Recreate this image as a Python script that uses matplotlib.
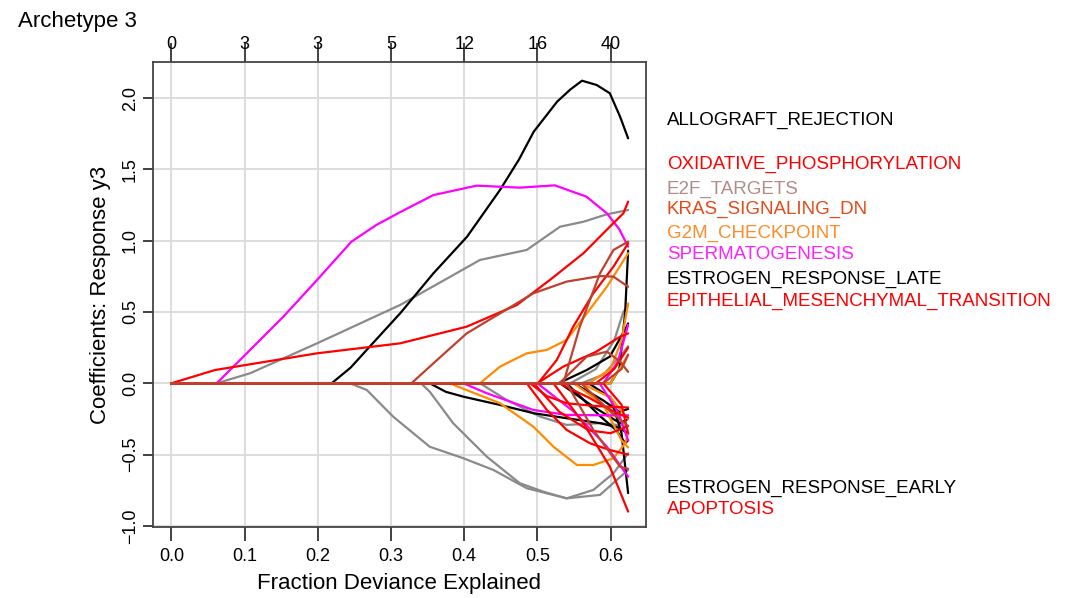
import matplotlib
matplotlib.use("Agg")
from matplotlib import pyplot as plt
import matplotlib.transforms as mtransforms

plt.rcParams["font.family"] = ["Liberation Sans", "DejaVu Sans"]

# fraction deviance ticks and number of non-zero coefficients (top axis)
dev_ticks = [0.0, 0.1, 0.2, 0.3, 0.4, 0.5, 0.6]
df_labels = ["0", "3", "3", "5", "12", "16", "40"]
y_ticks = [-1.0, -0.5, 0.0, 0.5, 1.0, 1.5, 2.0]

# coefficient paths: (fraction deviance knots, coefficient values)
black_paths = [
    ([0, 0.219, 0.245, 0.271, 0.3125, 0.358, 0.404, 0.449, 0.475, 0.495, 0.527, 0.545, 0.561, 0.581, 0.599, 0.613, 0.624],
     [0, 0, 0.11, 0.257, 0.49, 0.771, 1.028, 1.356, 1.57, 1.764, 1.975, 2.06, 2.122, 2.092, 2.034, 1.87, 1.718]),
    ([0, 0.353, 0.375, 0.399, 0.449, 0.495, 0.54, 0.586, 0.61, 0.624],
     [0, 0, -0.06, -0.094, -0.152, -0.21, -0.245, -0.28, -0.31, -0.35]),
    ([0, 0.6, 0.612, 0.62, 0.624], [0, 0, 0.1, 0.5, 0.93]),
    ([0, 0.57, 0.6, 0.615, 0.624], [0, 0, -0.1, -0.35, -0.77]),
    ([0, 0.529, 0.5675, 0.599, 0.622, 0.624], [0, 0, 0.093, 0.187, 0.397, 0.42]),
    ([0, 0.531, 0.5765, 0.613, 0.624], [0, 0, -0.164, -0.28, -0.25]),
    ([0, 0.54, 0.5856, 0.608, 0.62, 0.624], [0, 0, -0.23, -0.33, -0.42, -0.4]),
    ([0, 0.55, 0.59, 0.612, 0.624], [0, 0, -0.12, -0.2, -0.18]),
]
gray_paths = [
    ([0, 0.062, 0.1075, 0.199, 0.3125, 0.4217, 0.4855, 0.531, 0.563, 0.595, 0.624],
     [0, 0, 0.07, 0.28, 0.549, 0.865, 0.935, 1.098, 1.133, 1.185, 1.215]),
    ([0, 0.244, 0.267, 0.303, 0.353, 0.399, 0.44, 0.4855, 0.54, 0.5856, 0.6085, 0.624],
     [0, 0, -0.047, -0.234, -0.445, -0.526, -0.608, -0.736, -0.807, -0.783, -0.678, -0.608]),
    ([0, 0.341, 0.353, 0.385, 0.431, 0.476, 0.508, 0.54, 0.5765, 0.604, 0.624],
     [0, 0, -0.059, -0.28, -0.515, -0.701, -0.76, -0.807, -0.748, -0.631, -0.491]),
    ([0, 0.4217, 0.458, 0.504, 0.54, 0.5856, 0.624], [0, 0, -0.117, -0.234, -0.292, -0.28, -0.3]),
    ([0, 0.545, 0.58, 0.605, 0.6175, 0.624], [0, 0, 0.1, 0.3, 0.5, 0.55]),
    ([0, 0.56, 0.59, 0.615, 0.624], [0, 0, 0.06, 0.2, 0.26]),
]
magenta_paths = [
    ([0, 0.062, 0.103, 0.153, 0.199, 0.246, 0.28, 0.3125, 0.358, 0.417, 0.476, 0.524, 0.567, 0.595, 0.612, 0.624],
     [0, 0, 0.21, 0.467, 0.724, 0.993, 1.11, 1.2, 1.32, 1.386, 1.372, 1.388, 1.309, 1.192, 1.08, 0.958]),
    ([0, 0.399, 0.431, 0.4945, 0.54, 0.6, 0.624], [0, 0, -0.07, -0.187, -0.222, -0.225, -0.225]),
    ([0, 0.5, 0.55, 0.595, 0.624], [0, 0, -0.2, -0.445, -0.655]),
    ([0, 0.59, 0.61, 0.624], [0, 0, 0.15, 0.41]),
    ([0, 0.585, 0.61, 0.624], [0, 0, -0.2, -0.4]),
]
orange_paths = [
    ([0, 0.4217, 0.449, 0.4855, 0.513, 0.54, 0.5675, 0.595, 0.624],
     [0, 0, 0.117, 0.21, 0.234, 0.304, 0.49, 0.677, 0.912]),
    ([0, 0.38, 0.449, 0.4945, 0.522, 0.554, 0.5765, 0.604, 0.62, 0.624],
     [0, 0, -0.14, -0.304, -0.445, -0.573, -0.573, -0.526, -0.421, -0.35]),
    ([0, 0.57, 0.6, 0.615, 0.624], [0, 0, 0.1, 0.3, 0.56]),
    ([0, 0.56, 0.6, 0.624], [0, 0, -0.1, -0.25]),
    ([0, 0.6, 0.624], [0, 0, 0.2]),
    ([0, 0.55, 0.59, 0.615, 0.624], [0, 0, -0.15, -0.4, -0.45]),
]
red_paths = [
    ([0, 0.0597, 0.199, 0.3125, 0.4035, 0.472, 0.517, 0.563, 0.599, 0.6175, 0.624],
     [0, 0.093, 0.21, 0.28, 0.397, 0.549, 0.724, 0.912, 1.098, 1.192, 1.274]),
    ([0, 0.501, 0.5265, 0.549, 0.5765, 0.604, 0.624], [0, 0, 0.163, 0.397, 0.631, 0.818, 0.982]),
    ([0, 0.5, 0.5355, 0.58, 0.613, 0.624], [0, 0, 0.117, 0.22, 0.327, 0.35]),
    ([0, 0.4855, 0.513, 0.54, 0.572, 0.599, 0.624], [0, 0, -0.187, -0.327, -0.421, -0.468, -0.5]),
    ([0, 0.522, 0.563, 0.599, 0.624], [0, 0, -0.28, -0.585, -0.9]),
    ([0, 0.49, 0.513, 0.54, 0.58, 0.624], [0, 0, -0.09, -0.14, -0.16, -0.17]),
    ([0, 0.495, 0.53, 0.57, 0.6, 0.624], [0, 0, -0.2, -0.33, -0.35, -0.3]),
    ([0, 0.58, 0.605, 0.624], [0, 0, 0.1, 0.25]),
    ([0, 0.59, 0.615, 0.624], [0, 0, -0.15, -0.35]),
    ([0, 0.53, 0.57, 0.605, 0.624], [0, 0, -0.1, -0.2, -0.24]),
]
brown_paths = [
    ([0, 0.328, 0.358, 0.4035, 0.449, 0.4945, 0.54, 0.5856, 0.604, 0.624],
     [0, 0, 0.14, 0.35, 0.49, 0.631, 0.713, 0.752, 0.748, 0.677]),
    ([0, 0.5355, 0.558, 0.5856, 0.604, 0.624], [0, 0, 0.397, 0.771, 0.935, 0.993]),
    ([0, 0.53, 0.5675, 0.595, 0.613, 0.624], [0, 0, 0.187, 0.222, 0.152, 0.08]),
    ([0, 0.54, 0.5765, 0.613, 0.624], [0, 0, -0.327, -0.585, -0.6]),
    ([0, 0.56, 0.6, 0.624], [0, 0, -0.2, -0.3]),
    ([0, 0.59, 0.615, 0.624], [0, 0, 0.1, 0.2]),
]

# gene set labels at the right of the panel
gene_sets = ["ALLOGRAFT_REJECTION", "OXIDATIVE_PHOSPHORYLATION", "E2F_TARGETS",
             "KRAS_SIGNALING_DN", "G2M_CHECKPOINT", "SPERMATOGENESIS",
             "ESTROGEN_RESPONSE_LATE", "EPITHELIAL_MESENCHYMAL_TRANSITION",
             "ESTROGEN_RESPONSE_EARLY", "APOPTOSIS"]
gene_label_y = [1.846, 1.537, 1.36, 1.216, 1.052, 0.9, 0.725, 0.577, -0.736, -0.884]
gene_colors = ["#000000", "#FF0000", "#B58A8A", "#E64A19", "#FF8C2A", "#FF22FF",
               "#000000", "#FF0000", "#000000", "#FF0000"]

fig = plt.figure(figsize=(10.74, 5.98), dpi=100)
ax = fig.add_axes([0.1422, 0.1192, 0.459, 0.7766])

grid_col = "#DADADA"
for x in dev_ticks:
    ax.axvline(x, color=grid_col, lw=1.3, zorder=0)
for y in y_ticks:
    ax.axhline(y, color=grid_col, lw=1.3, zorder=0)

groups = [(gray_paths, "#8A8A8A"), (black_paths, "#000000"), (orange_paths, "#FF8C00"),
          (magenta_paths, "#FF00FF"), (red_paths, "#FF0000"), (brown_paths, "#C0402E")]
for paths, col in groups:
    for xs, ys in paths:
        ax.plot(xs, ys, color=col, lw=1.6, solid_joinstyle="round",
                solid_capstyle="round", zorder=2)

ax.set_xlim(-0.0254, 0.648)
ax.set_ylim(-1.006, 2.251)
for s in ax.spines.values():
    s.set_color("#444444")
    s.set_linewidth(1.3)

ax.set_xticks(dev_ticks)
ax.set_xticklabels([f"{v:.1f}" for v in dev_ticks])
ax.set_yticks(y_ticks)
ax.set_yticklabels([f"{v:.1f}".replace("-", "\u2212") for v in y_ticks], rotation=90, va="center")
ax.tick_params(axis="x", length=10, width=1.3, color="#333333", labelsize=13, pad=5)
ax.tick_params(axis="y", length=7, width=1.3, color="#333333", labelsize=13, pad=3)

top = ax.secondary_xaxis("top")
top.set_xticks(dev_ticks)
top.set_xticklabels(df_labels)
top.tick_params(length=14, width=1.3, color="#333333", labelsize=13, pad=-7)
top.spines["top"].set_visible(False)

ax.set_xlabel("Fraction Deviance Explained", fontsize=16, labelpad=6)
ax.set_ylabel("Coefficients: Response y3", fontsize=16, labelpad=8)

trans = mtransforms.blended_transform_factory(ax.transAxes, ax.transData)
for name, yv, col in zip(gene_sets, gene_label_y, gene_colors):
    ax.text(1.0426, yv, name, color=col, fontsize=13.5, va="center", ha="left",
            transform=trans, clip_on=False)

fig.text(18 / 1074, 1 - 22 / 598, "Archetype 3", fontsize=16, va="center", ha="left")

fig.savefig("out.png", dpi=100)
